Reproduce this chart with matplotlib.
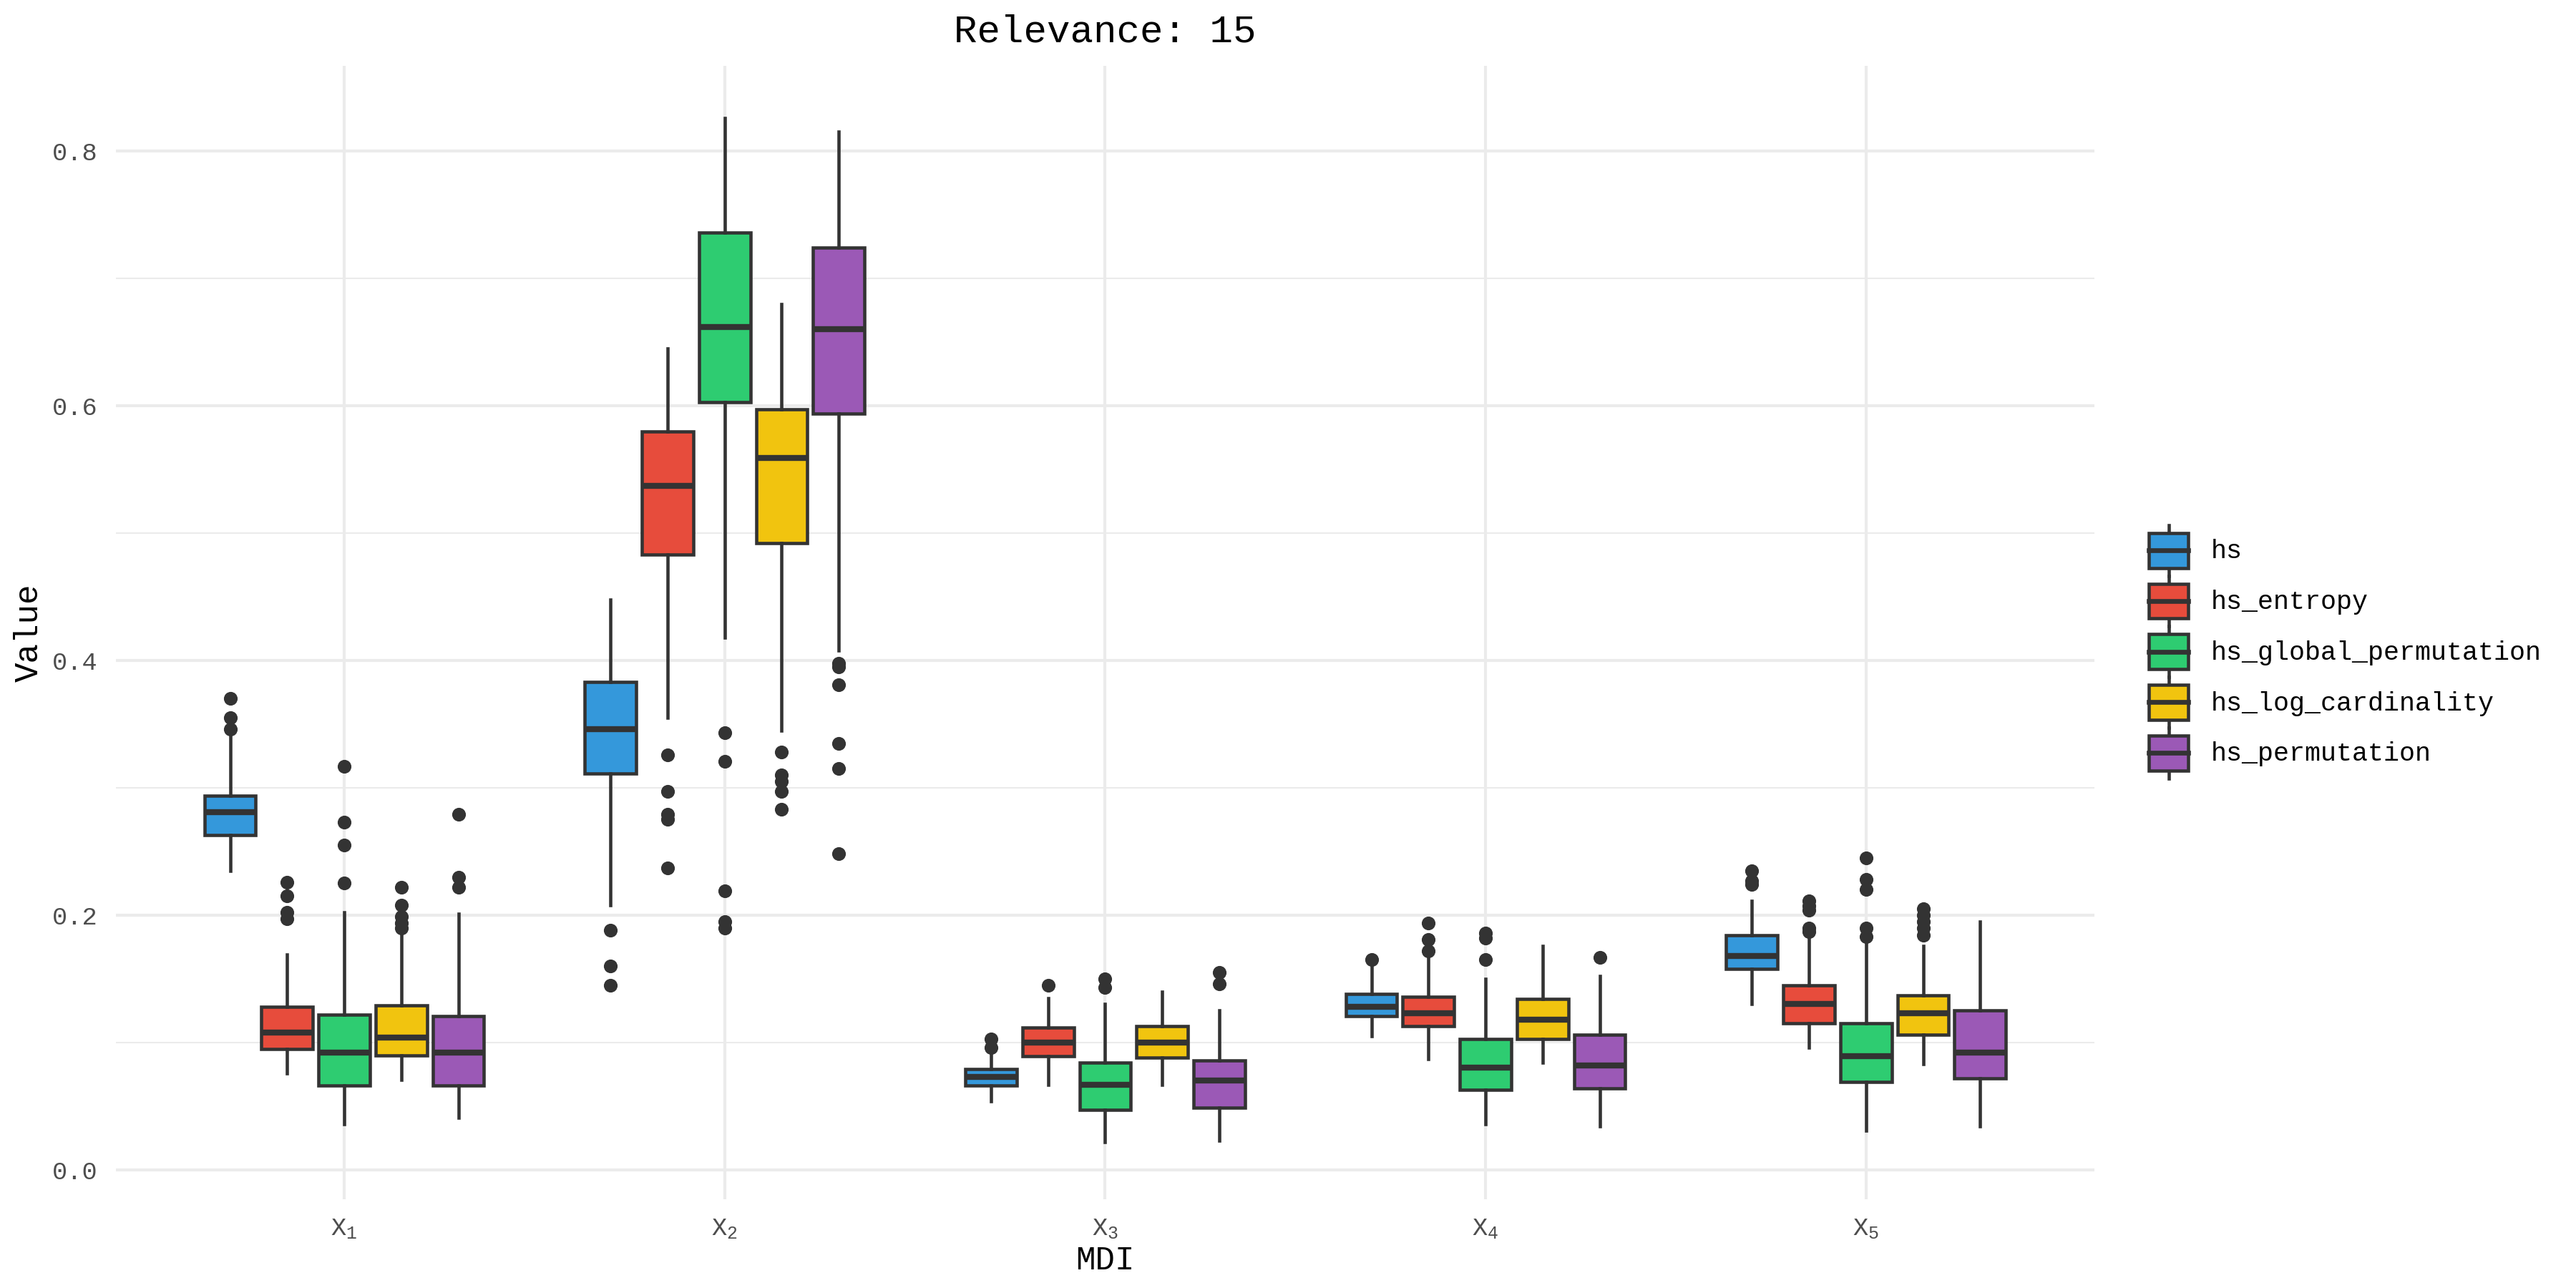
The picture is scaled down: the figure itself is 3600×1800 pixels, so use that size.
import matplotlib
matplotlib.use('Agg')
import matplotlib.pyplot as plt
from matplotlib.legend_handler import HandlerBase
from matplotlib.patches import Rectangle
from matplotlib.lines import Line2D

plt.rcParams['font.family'] = ['Liberation Mono', 'DejaVu Sans Mono']
plt.rcParams['mathtext.fontset'] = 'custom'
plt.rcParams['mathtext.rm'] = 'Liberation Mono'
plt.rcParams['mathtext.it'] = 'Liberation Mono'

groups = ['X$_1$', 'X$_2$', 'X$_3$', 'X$_4$', 'X$_5$']
methods = ['hs', 'hs_entropy', 'hs_global_permutation', 'hs_log_cardinality', 'hs_permutation']
colors = ['#3498db', '#e74c3c', '#2ecc71', '#f1c40f', '#9b59b6']

# box stats, one value per group X1..X5
med = {
    'hs': [0.281, 0.346, 0.073, 0.128, 0.168],
    'hs_entropy': [0.108, 0.537, 0.100, 0.123, 0.130],
    'hs_global_permutation': [0.092, 0.662, 0.067, 0.080, 0.089],
    'hs_log_cardinality': [0.104, 0.559, 0.100, 0.118, 0.123],
    'hs_permutation': [0.092, 0.660, 0.070, 0.082, 0.092],
}
q1 = {
    'hs': [0.263, 0.311, 0.066, 0.121, 0.158],
    'hs_entropy': [0.095, 0.483, 0.089, 0.113, 0.115],
    'hs_global_permutation': [0.066, 0.603, 0.047, 0.063, 0.069],
    'hs_log_cardinality': [0.090, 0.492, 0.088, 0.103, 0.106],
    'hs_permutation': [0.066, 0.594, 0.049, 0.064, 0.072],
}
q3 = {
    'hs': [0.294, 0.383, 0.079, 0.138, 0.184],
    'hs_entropy': [0.128, 0.580, 0.112, 0.136, 0.145],
    'hs_global_permutation': [0.122, 0.736, 0.084, 0.103, 0.115],
    'hs_log_cardinality': [0.129, 0.597, 0.113, 0.134, 0.137],
    'hs_permutation': [0.121, 0.724, 0.086, 0.106, 0.125],
}
wlo = {
    'hs': [0.235, 0.208, 0.054, 0.105, 0.130],
    'hs_entropy': [0.076, 0.355, 0.067, 0.087, 0.096],
    'hs_global_permutation': [0.036, 0.418, 0.022, 0.036, 0.031],
    'hs_log_cardinality': [0.071, 0.345, 0.067, 0.084, 0.083],
    'hs_permutation': [0.041, 0.408, 0.023, 0.034, 0.034],
}
whi = {
    'hs': [0.341, 0.448, 0.092, 0.160, 0.211],
    'hs_entropy': [0.169, 0.645, 0.135, 0.166, 0.182],
    'hs_global_permutation': [0.202, 0.826, 0.130, 0.150, 0.178],
    'hs_log_cardinality': [0.184, 0.680, 0.140, 0.176, 0.176],
    'hs_permutation': [0.201, 0.815, 0.125, 0.152, 0.195],
}
fliers = {
    'hs': [[0.346, 0.355, 0.370], [0.188, 0.160, 0.145], [0.096, 0.103], [0.165],
           [0.224, 0.227, 0.235]],
    'hs_entropy': [[0.197, 0.202, 0.215, 0.226], [0.326, 0.297, 0.279, 0.275, 0.237],
                   [0.145], [0.172, 0.181, 0.194],
                   [0.187, 0.190, 0.204, 0.207, 0.211]],
    'hs_global_permutation': [[0.225, 0.255, 0.273, 0.317],
                              [0.343, 0.321, 0.219, 0.195, 0.190],
                              [0.143, 0.150], [0.165, 0.182, 0.186],
                              [0.183, 0.190, 0.220, 0.228, 0.245]],
    'hs_log_cardinality': [[0.190, 0.194, 0.199, 0.208, 0.222],
                           [0.328, 0.310, 0.305, 0.297, 0.283],
                           [], [], [0.184, 0.190, 0.195, 0.200, 0.205]],
    'hs_permutation': [[0.222, 0.230, 0.279],
                       [0.398, 0.395, 0.381, 0.335, 0.315, 0.248],
                       [0.146, 0.155], [0.167], []],
}

dark = '#333333'
fig = plt.figure(figsize=(12, 6), dpi=300)
ax = fig.add_axes([0.045, 0.069, 0.768, 0.88])

offsets = [-0.3, -0.15, 0.0, 0.15, 0.3]
for k, m in enumerate(methods):
    stats = []
    for g in range(len(groups)):
        stats.append(dict(med=med[m][g], q1=q1[m][g], q3=q3[m][g],
                          whislo=wlo[m][g], whishi=whi[m][g], fliers=fliers[m][g]))
    pos = [g + 1 + offsets[k] for g in range(len(groups))]
    ax.bxp(stats, positions=pos, widths=0.135, patch_artist=True, showcaps=False,
           boxprops=dict(facecolor=colors[k], edgecolor=dark, linewidth=1.1),
           medianprops=dict(color=dark, linewidth=2.0),
           whiskerprops=dict(color=dark, linewidth=1.1),
           flierprops=dict(marker='o', markerfacecolor=dark, markeredgecolor='none',
                           markersize=4.6))

ax.set_xlim(0.4, 5.6)
ax.set_ylim(-0.023, 0.867)
ax.set_xticks(range(1, len(groups) + 1))
ax.set_xticklabels(groups)
ax.set_yticks([0.0, 0.2, 0.4, 0.6, 0.8])
ax.set_yticklabels(['0.0', '0.2', '0.4', '0.6', '0.8'])
ax.set_yticks([0.1, 0.3, 0.5, 0.7], minor=True)
ax.grid(True, which='major', color='#EBEBEB', linewidth=1.0)
ax.grid(True, which='minor', axis='y', color='#EBEBEB', linewidth=0.5)
ax.set_axisbelow(True)
ax.tick_params(which='both', length=0, labelsize=8.5, labelcolor='#4D4D4D', pad=6)
for s in ax.spines.values():
    s.set_visible(False)

ax.set_xlabel('MDI', fontsize=11, labelpad=1.5)
ax.set_ylabel('Value', fontsize=11, labelpad=2.5)
ax.set_title('Relevance: 15', fontsize=13, pad=8)


class HandlerBox(HandlerBase):
    def create_artists(self, legend, orig, xdescent, ydescent, width, height, fontsize, trans):
        cx = width / 2 - xdescent
        bh = height * 0.69
        by = (height - bh) / 2 - ydescent
        box = Rectangle((-xdescent, by), width, bh, facecolor=orig.get_facecolor(),
                        edgecolor=dark, linewidth=1.1, transform=trans)
        mline = Line2D([-xdescent, width - xdescent], [by + bh / 2] * 2, color=dark,
                       linewidth=1.6, transform=trans)
        w1 = Line2D([cx, cx], [-ydescent, by], color=dark, linewidth=1.1, transform=trans)
        w2 = Line2D([cx, cx], [by + bh, height - ydescent], color=dark, linewidth=1.1,
                    transform=trans)
        return [w1, w2, box, mline]


handles = [Rectangle((0, 0), 1, 1, facecolor=c) for c in colors]
ax.legend(handles, methods, handler_map={Rectangle: HandlerBox()},
          loc='center left', bbox_to_anchor=(1.017, 0.483), frameon=False,
          fontsize=8.8, handlelength=1.5, handleheight=2.59, labelspacing=0.0,
          handletextpad=0.85, borderpad=0.3)

fig.savefig('out.png', dpi=300, facecolor='white')
